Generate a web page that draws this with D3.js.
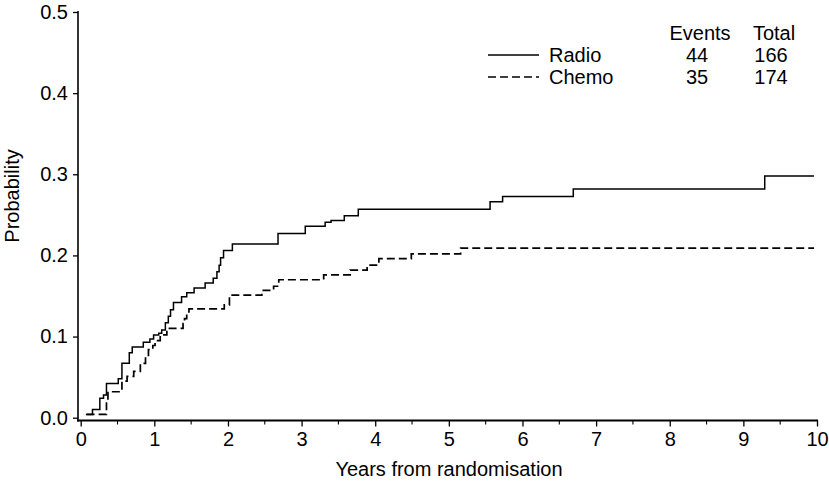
<!DOCTYPE html>
<html>
<head>
<meta charset="utf-8">
<script src="https://cdn.jsdelivr.net/npm/d3@7"></script>
<style>
  html, body { margin: 0; padding: 0; background: #fff; }
  svg { display: block; font-family: "Liberation Sans", Arial, sans-serif; }
</style>
</head>
<body>
<svg id="chart" width="829" height="492"></svg>
<script>
// ---- data ----
const radioTimes = [0.07, 0.16, 0.26, 0.31, 0.35, 0.51, 0.56, 0.66, 0.70, 0.85, 0.94, 0.99, 1.06, 1.10, 1.15, 1.19, 1.22, 1.26, 1.37, 1.44, 1.54, 1.69, 1.80, 1.85, 1.88, 1.90, 1.94, 2.06, 2.68, 3.05, 3.32, 3.40, 3.58, 3.77, 5.56, 5.73, 6.69, 9.29, 9.96];
const radioProbs = [0.004, 0.010, 0.024, 0.028, 0.042, 0.048, 0.067, 0.080, 0.087, 0.093, 0.097, 0.102, 0.104, 0.108, 0.117, 0.125, 0.133, 0.142, 0.149, 0.154, 0.160, 0.166, 0.172, 0.180, 0.188, 0.197, 0.206, 0.214, 0.227, 0.236, 0.241, 0.243, 0.249, 0.257, 0.266, 0.2725, 0.282, 0.298, 0.298];
const chemoTimes = [0.08, 0.35, 0.37, 0.56, 0.63, 0.72, 0.81, 0.88, 0.92, 0.98, 1.01, 1.08, 1.17, 1.39, 1.41, 1.44, 1.47, 1.95, 2.02, 2.46, 2.62, 2.69, 3.30, 3.66, 3.89, 4.05, 4.49, 5.16, 9.96];
const chemoProbs = [0.004, 0.018, 0.032, 0.045, 0.051, 0.057, 0.067, 0.075, 0.084, 0.089, 0.095, 0.102, 0.110, 0.116, 0.122, 0.128, 0.134, 0.139, 0.151, 0.157, 0.162, 0.170, 0.176, 0.182, 0.188, 0.196, 0.202, 0.209, 0.209];
const seriesNames = ["Radio", "Chemo"];
const seriesEvents = [44, 35];
const seriesTotals = [166, 174];
const xTicks = [0, 1, 2, 3, 4, 5, 6, 7, 8, 9, 10];
const xMinorTicks = [0.5, 1.5, 2.5, 3.5, 4.5, 5.5, 6.5, 7.5, 8.5, 9.5];
const yTicks = [0.0, 0.1, 0.2, 0.3, 0.4, 0.5];
const xTitle = "Years from randomisation";
const yTitle = "Probability";

// ---- layout ----
const svg = d3.select("#chart");
const x = d3.scaleLinear().domain([0, 10]).range([80.7, 817]);
const y = d3.scaleLinear().domain([0, 0.5]).range([417.7, 12]);
const FS = 20;

// y axis
const yAxisX = 78;
const yAx = svg.append("g").attr("transform", `translate(${yAxisX},0)`)
  .call(d3.axisLeft(y).tickValues(yTicks).tickFormat(d3.format(".1f")).tickSize(5).tickPadding(5));
yAx.select(".domain").remove();
yAx.append("line").attr("x1", 0).attr("x2", 0).attr("y1", 11).attr("y2", 421.5)
  .attr("stroke", "#000").attr("stroke-width", 1.6);
yAx.selectAll(".tick line").attr("stroke", "#000").attr("stroke-width", 1.3);
yAx.selectAll(".tick text").attr("font-size", FS).attr("fill", "#000")
  .attr("font-family", "Liberation Sans, Arial, sans-serif");

// x axis
const xAxisY = 420.5;
const xAx = svg.append("g").attr("transform", `translate(0,${xAxisY})`)
  .call(d3.axisBottom(x).tickValues(xTicks).tickFormat(d3.format("d")).tickSize(6).tickPadding(5));
xAx.select(".domain").remove();
xAx.append("line").attr("x1", yAxisX - 1).attr("x2", x(10) + 1).attr("y1", 0).attr("y2", 0)
  .attr("stroke", "#000").attr("stroke-width", 2.2);
xAx.selectAll(".tick line").attr("stroke", "#000").attr("stroke-width", 1.3);
xAx.selectAll(".tick text").attr("font-size", FS).attr("fill", "#000")
  .attr("font-family", "Liberation Sans, Arial, sans-serif");
xAx.selectAll(".minor").data(xMinorTicks).enter().append("line")
  .attr("class", "minor")
  .attr("x1", d => x(d)).attr("x2", d => x(d)).attr("y1", 0).attr("y2", 4)
  .attr("stroke", "#000").attr("stroke-width", 1.1);

// titles
svg.append("text").attr("x", 449).attr("y", 476).attr("text-anchor", "middle")
  .attr("font-size", FS).attr("fill", "#000").text(xTitle);
svg.append("text").attr("transform", "translate(19,196) rotate(-90)").attr("text-anchor", "middle")
  .attr("font-size", FS).attr("fill", "#000").text(yTitle);

// curves
const line = d3.line().x(d => x(d[0])).y(d => y(d[1])).curve(d3.curveStepAfter);
const radioData = radioTimes.map((t, i) => [t, radioProbs[i]]);
const chemoData = chemoTimes.map((t, i) => [t, chemoProbs[i]]);
svg.append("path").datum(radioData).attr("d", line)
  .attr("fill", "none").attr("stroke", "#000").attr("stroke-width", 1.5);
svg.append("path").datum(chemoData).attr("d", line)
  .attr("fill", "none").attr("stroke", "#000").attr("stroke-width", 1.7)
  .attr("stroke-dasharray", "8,4");

// legend
const legend = svg.append("g");
legend.append("text").attr("x", 700).attr("y", 40).attr("text-anchor", "middle")
  .attr("font-size", FS).text("Events");
legend.append("text").attr("x", 774).attr("y", 40).attr("text-anchor", "middle")
  .attr("font-size", FS).text("Total");
const rowsY = [62, 84];
const dashes = [null, "8,4"];
seriesNames.forEach((name, i) => {
  legend.append("line").attr("x1", 488).attr("x2", 539)
    .attr("y1", rowsY[i] - 7).attr("y2", rowsY[i] - 7)
    .attr("stroke", "#000").attr("stroke-width", 1.4)
    .attr("stroke-dasharray", dashes[i]);
  legend.append("text").attr("x", 549).attr("y", rowsY[i]).attr("font-size", FS).text(name);
  legend.append("text").attr("x", 697).attr("y", rowsY[i]).attr("text-anchor", "middle")
    .attr("font-size", FS).text(seriesEvents[i]);
  legend.append("text").attr("x", 771).attr("y", rowsY[i]).attr("text-anchor", "middle")
    .attr("font-size", FS).text(seriesTotals[i]);
});
</script>
</body>
</html>
